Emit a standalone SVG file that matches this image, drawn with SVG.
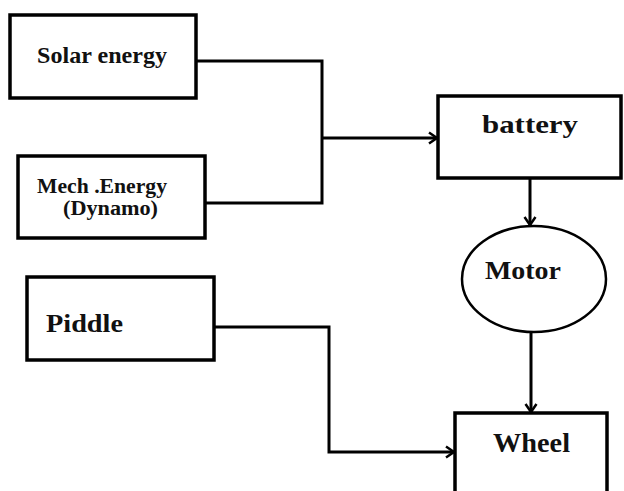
<svg xmlns="http://www.w3.org/2000/svg" width="624" height="491" viewBox="0 0 624 491">
<style>
.box{fill:#fff;stroke:#000;stroke-width:3.5}
.lbl{font-family:"Liberation Serif","Times New Roman","DejaVu Serif",serif;font-weight:bold;fill:#111}
.conn{fill:none;stroke:#000;stroke-width:3}
</style>
<defs>
<marker id="arr" markerWidth="14" markerHeight="14" refX="11" refY="7" orient="auto" markerUnits="userSpaceOnUse">
<polyline points="3,1.5 11,7 3,12.5" fill="none" stroke="#000" stroke-width="2.5"/>
</marker>
</defs>
<rect width="624" height="491" fill="#fff"/>
<g id="connectors">
<polyline class="conn" points="196,61 322,61 322,203 205,203"/>
<line class="conn" x1="322" y1="138" x2="437" y2="138" marker-end="url(#arr)"/>
<line class="conn" x1="530" y1="178" x2="530" y2="225" marker-end="url(#arr)"/>
<line class="conn" x1="531" y1="332" x2="531" y2="412" stroke-width="4" marker-end="url(#arr)"/>
<polyline class="conn" points="214,327 329,327 329,452 454,452" marker-end="url(#arr)"/>
</g>
<g id="solar">
<rect class="box" x="10" y="15" width="186" height="83"/>
<text class="lbl" x="37" y="63" font-size="23" textLength="130" lengthAdjust="spacingAndGlyphs">Solar energy</text>
</g>
<g id="mech">
<rect class="box" x="18" y="156" width="187" height="82"/>
<text class="lbl" x="37" y="193" font-size="20" textLength="130" lengthAdjust="spacingAndGlyphs">Mech .Energy</text>
<text class="lbl" x="63" y="215" font-size="20" textLength="95" lengthAdjust="spacingAndGlyphs">(Dynamo)</text>
</g>
<g id="battery">
<rect class="box" x="438" y="96" width="183" height="82" stroke-width="4.5"/>
<text class="lbl" x="482" y="133" font-size="26" textLength="96" lengthAdjust="spacingAndGlyphs">battery</text>
</g>
<g id="motor">
<ellipse cx="534" cy="279" rx="72" ry="53" fill="#fff" stroke="#000" stroke-width="2.5"/>
<text class="lbl" x="485" y="279" font-size="25" textLength="76" lengthAdjust="spacingAndGlyphs">Motor</text>
</g>
<g id="piddle">
<rect class="box" x="27" y="277" width="187" height="83"/>
<text class="lbl" x="46" y="332" font-size="26" textLength="77" lengthAdjust="spacingAndGlyphs">Piddle</text>
</g>
<g id="wheel">
<rect class="box" x="455" y="413" width="152" height="100" stroke-width="3"/>
<text class="lbl" x="493" y="452" font-size="27" textLength="77" lengthAdjust="spacingAndGlyphs">Wheel</text>
</g>
</svg>
